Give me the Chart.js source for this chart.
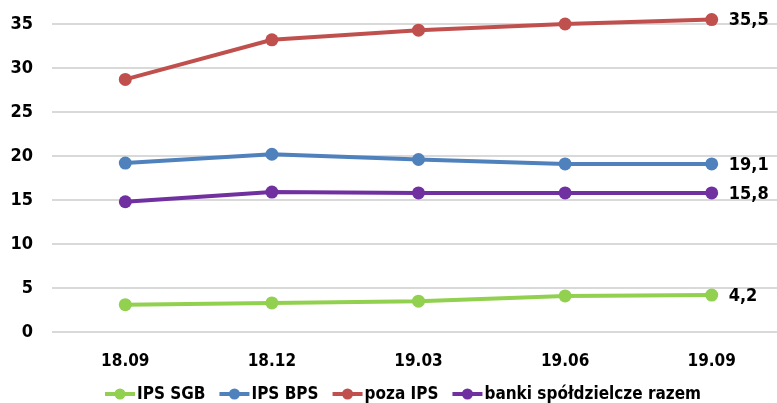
<!DOCTYPE html>
<html>
<head>
<meta charset="utf-8">
<script src="https://cdn.jsdelivr.net/npm/chart.js@4/dist/chart.umd.min.js"></script>
<style>
html,body{margin:0;padding:0;background:#fff;overflow:hidden;}
#wrap{width:785px;height:403px;}
</style>
</head>
<body>
<div id="wrap"><canvas id="c" width="785" height="403"></canvas></div>
<script>
const categories = ['18.09', '18.12', '19.03', '19.06', '19.09'];
const ipsSgb = [3.1, 3.3, 3.5, 4.1, 4.2];
const ipsBps = [19.2, 20.2, 19.6, 19.1, 19.1];
const pozaIps = [28.7, 33.2, 34.3, 35.0, 35.5];
const bankiRazem = [14.8, 15.9, 15.8, 15.8, 15.8];
const yTicks = [0, 5, 10, 15, 20, 25, 30, 35];

const FONT = '"Liberation Sans Narrow", "Arial Narrow", "DejaVu Sans Condensed", sans-serif';

const seriesDefs = [
  { label: 'IPS SGB', data: ipsSgb, color: '#92d050' },
  { label: 'IPS BPS', data: ipsBps, color: '#4f81bd' },
  { label: 'poza IPS', data: pozaIps, color: '#c0504d' },
  { label: 'banki spółdzielcze razem', data: bankiRazem, color: '#7030a0' }
];

const endLabels = {
  id: 'endLabels',
  afterDatasetsDraw(chart) {
    const ctx = chart.ctx;
    ctx.save();
    ctx.font = 'bold 18px ' + FONT;
    ctx.fillStyle = '#000';
    ctx.textAlign = 'left';
    ctx.textBaseline = 'middle';
    chart.data.datasets.forEach((ds, i) => {
      const meta = chart.getDatasetMeta(i);
      const last = meta.data[meta.data.length - 1];
      const v = ds.data[ds.data.length - 1];
      ctx.fillText(v.toFixed(1).replace('.', ','), last.x + 17, last.y + 1);
    });
    ctx.restore();
  }
};

const customLegend = {
  id: 'customLegend',
  afterDraw(chart) {
    const ctx = chart.ctx;
    ctx.save();
    ctx.font = 'bold 17px ' + FONT;
    const markerW = 30, gap = 14, y = 394;
    const items = chart.data.datasets.map(ds => ({ text: ds.label, color: ds.borderColor, w: markerW + 2 + ctx.measureText(ds.label).width }));
    const total = items.reduce((s, it) => s + it.w, 0) + gap * (items.length - 1);
    let x = 403 - total / 2;
    items.forEach(it => {
      ctx.strokeStyle = it.color;
      ctx.lineWidth = 4;
      ctx.beginPath();
      ctx.moveTo(x, y);
      ctx.lineTo(x + markerW, y);
      ctx.stroke();
      ctx.fillStyle = it.color;
      ctx.beginPath();
      ctx.arc(x + markerW / 2, y, 5.5, 0, Math.PI * 2);
      ctx.fill();
      ctx.fillStyle = '#000';
      ctx.textAlign = 'left';
      ctx.textBaseline = 'middle';
      ctx.fillText(it.text, x + markerW + 2, y + 1);
      x += it.w + gap;
    });
    ctx.restore();
  }
};

new Chart(document.getElementById('c'), {
  type: 'line',
  data: {
    labels: categories,
    datasets: seriesDefs.map(s => ({
      label: s.label,
      data: s.data,
      borderColor: s.color,
      backgroundColor: s.color,
      pointBackgroundColor: s.color,
      pointBorderColor: s.color,
      borderWidth: 4,
      pointRadius: 6.5,
      pointBorderWidth: 0,
      tension: 0,
      fill: false,
      clip: false
    }))
  },
  options: {
    responsive: false,
    animation: false,
    devicePixelRatio: 1,
    layout: { autoPadding: false, padding: { top: 24, right: 0, bottom: 0, left: 0 } },
    plugins: {
      legend: { display: false },
      tooltip: { enabled: false }
    },
    scales: {
      x: {
        offset: true,
        grid: { display: false, drawTicks: false },
        border: { display: false },
        ticks: { color: '#000', font: { family: FONT, size: 17, weight: 'bold' }, padding: 19, maxRotation: 0 },
        afterFit(scale) { scale.height = 71; }
      },
      y: {
        min: 0, max: 35,
        afterBuildTicks(scale) { scale.ticks = yTicks.map(v => ({ value: v })); },
        grid: { color: '#d9d9d9', lineWidth: 2, drawTicks: false },
        border: { display: false },
        ticks: { color: '#000', font: { family: FONT, size: 18, weight: 'bold' }, padding: 19 },
        afterFit(scale) { scale.width = 52; scale.paddingTop = 0; scale.paddingBottom = 0; }
      }
    }
  },
  plugins: [endLabels, customLegend]
});
</script>
</body>
</html>
